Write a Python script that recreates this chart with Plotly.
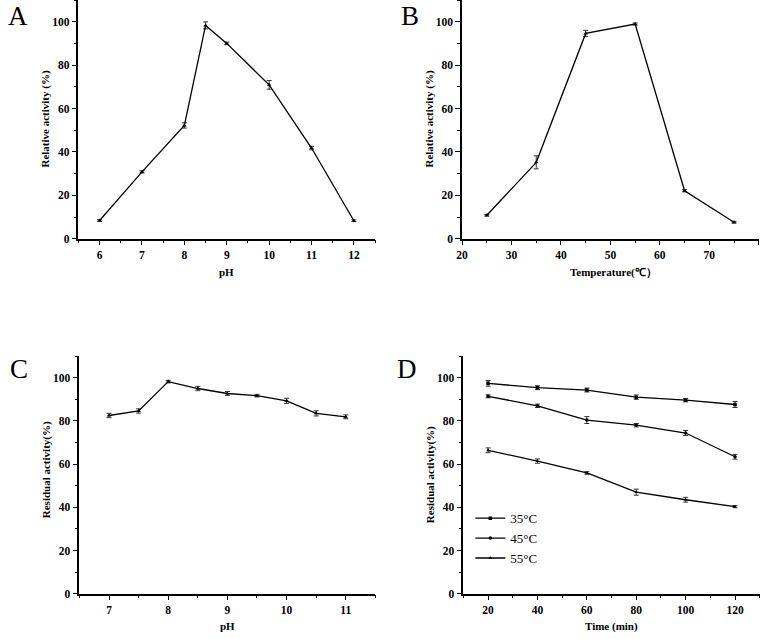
import plotly.graph_objects as go

W, H = 764, 639

# Panel A: pH optimum
ph_a = [6, 7, 8, 8.5, 9, 10, 11, 12]
act_a = [8.4, 30.8, 52.2, 98.3, 90.0, 70.9, 41.8, 8.3]
err_a = [0.4, 0.5, 1.2, 1.6, 0.6, 2.0, 0.8, 0.4]

# Panel B: temperature optimum
temp_b = [25, 35, 45, 55, 65, 75]
act_b = [10.8, 35.2, 94.6, 98.9, 22.1, 7.6]
err_b = [0.4, 3.0, 1.4, 0.5, 0.5, 0.4]

# Panel C: pH stability
ph_c = [7, 7.5, 8, 8.5, 9, 9.5, 10, 10.5, 11]
act_c = [82.5, 84.6, 98.2, 95.0, 92.7, 91.7, 89.3, 83.5, 81.9]
err_c = [1.0, 1.0, 0.6, 1.0, 0.9, 0.6, 1.2, 1.2, 0.9]

# Panel D: thermal stability
time_d = [20, 40, 60, 80, 100, 120]
labels_d = ["35°C", "45°C", "55°C"]
act_35 = [97.4, 95.4, 94.3, 91.0, 89.6, 87.6]
err_35 = [1.3, 0.9, 0.9, 1.0, 0.8, 1.4]
act_45 = [91.4, 87.0, 80.4, 78.0, 74.4, 63.4]
err_45 = [0.7, 0.8, 1.6, 0.8, 1.2, 1.1]
act_55 = [66.4, 61.4, 55.9, 47.0, 43.5, 40.3]
err_55 = [1.1, 1.0, 0.6, 1.4, 1.1, 0.5]

FONT = "Liberation Serif"
LINE = dict(color="black", width=1.3)


def err(v):
    return dict(type="data", array=v, visible=True, color="#333333",
                thickness=1, width=2.5)


fig = go.Figure()

fig.add_trace(go.Scatter(x=ph_a, y=act_a, error_y=err(err_a), mode="lines+markers",
                         line=LINE, marker=dict(symbol="triangle-up", size=4, color="black"),
                         xaxis="x", yaxis="y", showlegend=False))
fig.add_trace(go.Scatter(x=temp_b, y=act_b, error_y=err(err_b), mode="lines+markers",
                         line=LINE, marker=dict(symbol="triangle-up", size=4, color="black"),
                         xaxis="x2", yaxis="y2", showlegend=False))
fig.add_trace(go.Scatter(x=ph_c, y=act_c, error_y=err(err_c), mode="lines+markers",
                         line=LINE, marker=dict(symbol="triangle-up", size=4, color="black"),
                         xaxis="x3", yaxis="y3", showlegend=False))
symbols = ["square", "circle", "triangle-up"]
for lab, vals, e, sym in zip(labels_d, [act_35, act_45, act_55], [err_35, err_45, err_55], symbols):
    fig.add_trace(go.Scatter(x=time_d, y=vals, error_y=err(e), mode="lines+markers", name=lab,
                             line=LINE, marker=dict(symbol=sym, size=3.5, color="black"),
                             xaxis="x4", yaxis="y4", showlegend=True))

tickfont = dict(family=FONT, size=11.5, color="black", weight="bold")


def xax(dom, anchor, rng, dtick, minor, tick0=None):
    d = dict(domain=dom, anchor=anchor, range=rng, dtick=dtick, showline=True,
             linecolor="black", linewidth=1.5, ticks="outside", ticklen=5, tickwidth=1.2,
             tickcolor="black", showgrid=False, zeroline=False, tickfont=tickfont,
             minor=dict(dtick=minor, ticks="outside", ticklen=3, tickwidth=1, tickcolor="black",
                        showgrid=False))
    if tick0 is not None:
        d["tick0"] = tick0
        d["minor"]["tick0"] = tick0
    return d


def yax(dom, anchor):
    return dict(domain=dom, anchor=anchor, range=[0, 110], dtick=20, tick0=0, showline=True,
                linecolor="black", linewidth=1.5, ticks="outside", ticklen=5, tickwidth=1.2,
                tickcolor="black", showgrid=False, zeroline=False, tickfont=tickfont,
                minor=dict(dtick=10, ticks="outside", ticklen=3, tickwidth=1, tickcolor="black",
                           showgrid=False))


xa = [73 / W, 372 / W]
xb = [459.7 / W, 758.7 / W]
xc = [74 / W, 372.3 / W]
xd = [461 / W, 759.7 / W]
ytop = [1 - 241 / H, 1.0]
ybot = [1 - 599.3 / H, 1 - 359.5 / H]

fig.update_layout(
    width=W, height=H, margin=dict(l=0, r=0, t=0, b=0),
    paper_bgcolor="white", plot_bgcolor="white",
    font=dict(family=FONT, color="black"),
    xaxis=xax(xa, "y", [5.5, 12.5], 1, 0.5, tick0=6),
    yaxis=yax(ytop, "x"),
    xaxis2=xax(xb, "y2", [20, 80], 10, 5, tick0=20),
    yaxis2=yax(ytop, "x2"),
    xaxis3=xax(xc, "y3", [6.5, 11.5], 1, 0.5, tick0=7),
    yaxis3=yax(ybot, "x3"),
    xaxis4=xax(xd, "y4", [10, 130], 20, 10, tick0=20),
    yaxis4=yax(ybot, "x4"),
    legend=dict(x=468 / W, y=1 - 508 / H, xanchor="left", yanchor="top",
                font=dict(family=FONT, size=13, color="black"),
                bgcolor="rgba(0,0,0,0)", tracegroupgap=0, itemwidth=30,
                traceorder="normal"),
)


def ann(text, x, y, size=11, bold=True, angle=0):
    t = f"<b>{text}</b>" if bold else text
    fig.add_annotation(text=t, x=x / W, y=1 - y / H, xref="paper", yref="paper",
                       showarrow=False, textangle=angle, xanchor="center", yanchor="middle",
                       borderpad=0, font=dict(family=FONT, size=size, color="black"))


# panel letters
ann("A", 12, 16, size=27, bold=False)
ann("B", 407, 16, size=27, bold=False)
ann("C", 13, 372, size=27, bold=False)
ann("D", 404, 372, size=27, bold=False)

# axis titles
ann("Relative activity (%)", 40, 120, angle=-90)
ann("pH", 222, 275)
ann("Relative activity (%)", 427, 120, angle=-90)
ann("Temperature(℃）", 612, 275)
ann("Residual activity(%)", 41, 474, angle=-90)
ann("pH", 223, 632)
ann("Residual activity(%)", 428, 479, angle=-90)
ann("Time (min)", 610, 632)

fig.write_html("out.html", config={"displayModeBar": False},
               post_script="document.body.style.margin='0';")
